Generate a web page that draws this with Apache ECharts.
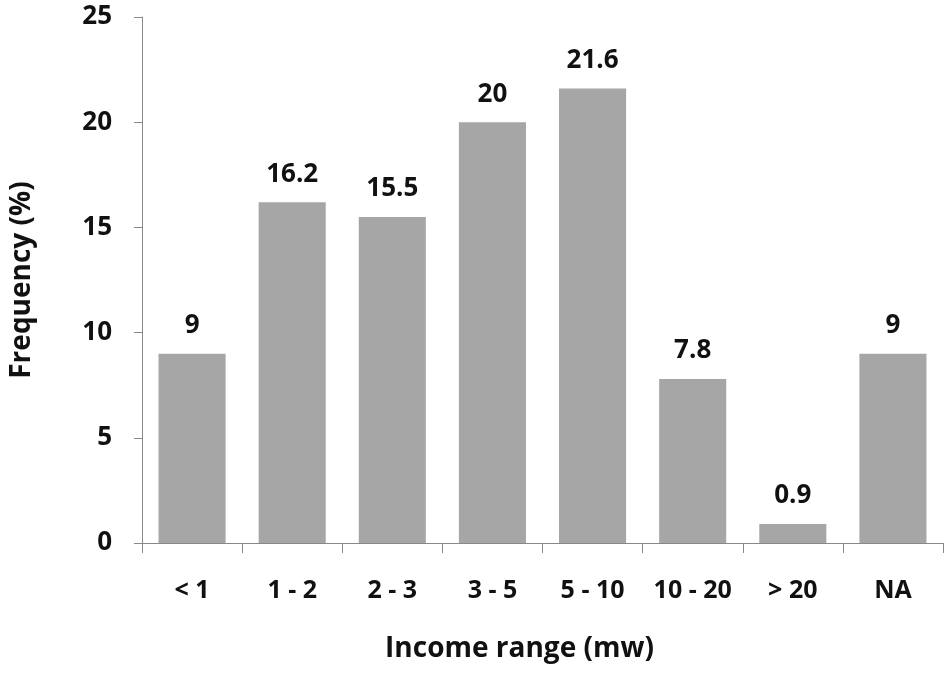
<!DOCTYPE html>
<html><head><meta charset="utf-8">
<script src="https://cdn.jsdelivr.net/npm/echarts@6/dist/echarts.min.js"></script>
<style>html,body{margin:0;padding:0;background:#fff}#c{width:950px;height:675px}</style>
</head><body><div id="c"></div>
<script>
const categories = ['< 1', '1 - 2', '2 - 3', '3 - 5', '5 - 10', '10 - 20', '> 20', 'NA'];
const values = [9, 16.2, 15.5, 20, 21.6, 7.8, 0.9, 9];
const yTicks = [0, 5, 10, 15, 20, 25];
const font = 'Open Sans';
const chart = echarts.init(document.getElementById('c'));
chart.setOption({
  animation: false,
  grid: { left: 141, right: 7, top: 17, bottom: 132 },
  xAxis: {
    type: 'category', data: categories,
    name: 'Income range (mw)', nameLocation: 'middle', nameGap: 92,
    nameTextStyle: { fontFamily: font, fontWeight: 'bold', fontSize: 28, color: '#111', padding: [0, 46, 0, 0] },
    axisLine: { lineStyle: { color: '#888', width: 1 } },
    axisTick: { show: true, interval: 0, length: 10, alignWithLabel: false, lineStyle: { color: '#888' } },
    axisLabel: { interval: 0, hideOverlap: false, fontFamily: font, fontWeight: 'bold', fontSize: 25, color: '#111', margin: 35 }
  },
  yAxis: {
    type: 'value', min: yTicks[0], max: yTicks[yTicks.length - 1], interval: 5,
    name: 'Frequency (%)', nameLocation: 'middle', nameGap: 106, nameRotate: 90,
    nameTextStyle: { fontFamily: font, fontWeight: 'bold', fontSize: 28, color: '#111' },
    axisLine: { show: true, lineStyle: { color: '#888', width: 1 } },
    axisTick: { show: true, length: 8, lineStyle: { color: '#888' } },
    splitLine: { show: false },
    axisLabel: { fontFamily: font, fontWeight: 'bold', fontSize: 26, color: '#111', margin: 30 }
  },
  series: [{
    type: 'bar', data: values, barCategoryGap: '33%',
    itemStyle: { color: '#a6a6a6' },
    label: { show: true, position: 'top', distance: 15, fontFamily: font, fontWeight: 'bold', fontSize: 26, color: '#111' }
  }]
});
</script></body></html>
